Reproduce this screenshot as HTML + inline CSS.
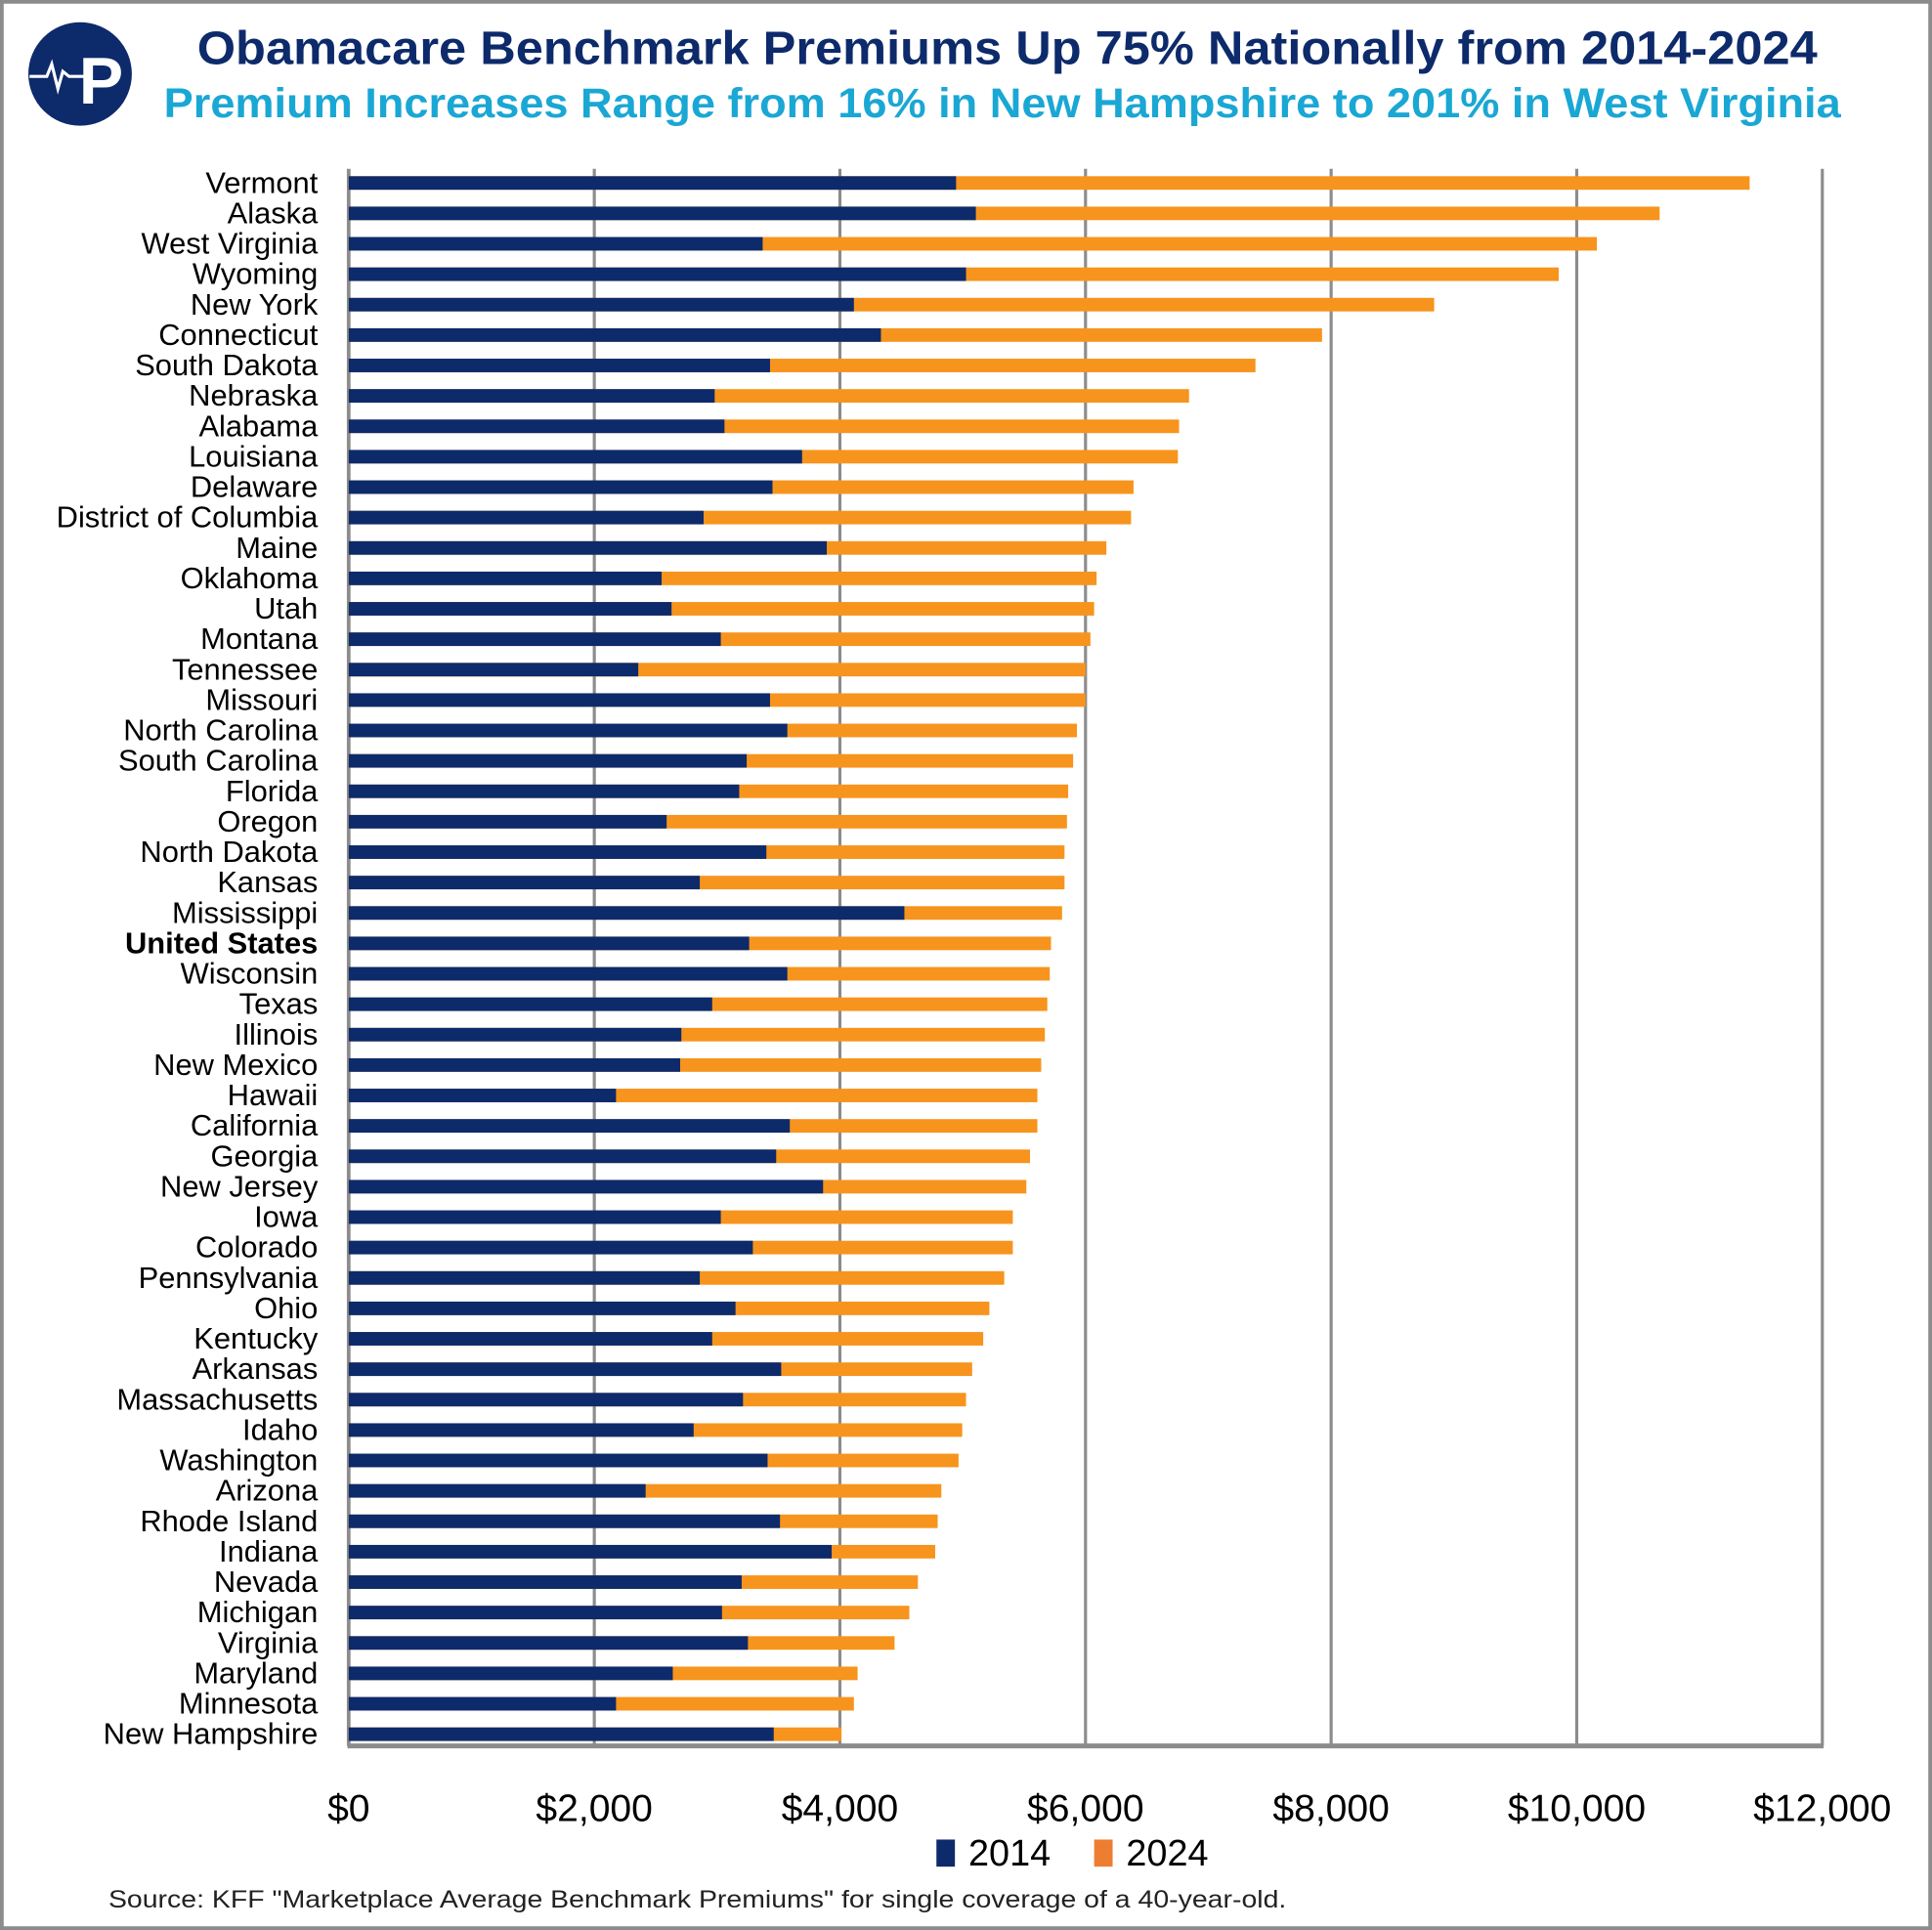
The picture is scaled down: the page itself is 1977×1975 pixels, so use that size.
<!DOCTYPE html>
<html><head><meta charset="utf-8"><style>
html,body{margin:0;padding:0;background:#fff}
svg{display:block}
text{font-family:"Liberation Sans",sans-serif}
</style></head><body>
<svg id="chart" width="1977" height="1975" viewBox="0 0 1568 1566.4" xmlns="http://www.w3.org/2000/svg">
<rect x="1.5" y="1.5" width="1565" height="1563.4" fill="#fff" stroke="#8c8c8c" stroke-width="3"/>
<g>
<circle cx="65" cy="60" r="42" fill="#0d2a6b"/>
<path d="M24 62 L38 62 L42 52 L47 72 L51 58 L56 62 L70 62" stroke="#fff" stroke-width="2.5" fill="none"/>
<text x="64" y="84" font-size="54" font-weight="bold" fill="#fff">P</text>
</g>
<text x="160" y="52" textLength="1315" lengthAdjust="spacingAndGlyphs" font-size="38" font-weight="bold" fill="#0d2a6b">Obamacare Benchmark Premiums Up 75% Nationally from 2014-2024</text>
<text x="133" y="95" textLength="1361" lengthAdjust="spacingAndGlyphs" font-size="34" font-weight="bold" fill="#1aa7d4">Premium Increases Range from 16% in New Hampshire to 201% in West Virginia</text>
<g id="grid"></g>
<g id="bars"></g>
<g id="labels"></g>
<g id="ticks"></g>
<g>
<rect x="760" y="1493" width="15" height="22" fill="#0d2a6b"/>
<text x="786" y="1514" font-size="30" fill="#000">2014</text>
<rect x="888" y="1493" width="15" height="22" fill="#ed7d31"/>
<text x="914" y="1514" font-size="30" fill="#000">2024</text>
</g>
<text x="88" y="1548" textLength="956" lengthAdjust="spacingAndGlyphs" font-size="20" fill="#222">Source: KFF "Marketplace Average Benchmark Premiums" for single coverage of a 40-year-old.</text>
</svg>
<script>
const states=["Vermont","Alaska","West Virginia","Wyoming","New York","Connecticut","South Dakota","Nebraska","Alabama","Louisiana","Delaware","District of Columbia","Maine","Oklahoma","Utah","Montana","Tennessee","Missouri","North Carolina","South Carolina","Florida","Oregon","North Dakota","Kansas","Mississippi","United States","Wisconsin","Texas","Illinois","New Mexico","Hawaii","California","Georgia","New Jersey","Iowa","Colorado","Pennsylvania","Ohio","Kentucky","Arkansas","Massachusetts","Idaho","Washington","Arizona","Rhode Island","Indiana","Nevada","Michigan","Virginia","Maryland","Minnesota","New Hampshire"];
const prem2014=[4946,5107,3371,5027,4114,4334,3431,2980,3060,3692,3451,2890,3893,2548,2629,3030,2358,3431,3572,3241,3180,2589,3401,2859,4525,3261,3572,2960,2709,2699,2177,3592,3481,3863,3030,3291,2859,3150,2960,3522,3211,2809,3411,2418,3512,3933,3200,3040,3251,2639,2177,3461];
const prem2024=[11408,10675,10164,9853,8839,7926,7384,6843,6762,6752,6391,6371,6170,6090,6070,6040,6000,6000,5930,5899,5859,5849,5829,5829,5809,5719,5709,5689,5669,5639,5608,5608,5548,5518,5408,5408,5338,5217,5167,5077,5027,4996,4966,4826,4796,4776,4635,4565,4445,4144,4114,4013];
const tickVals=[0,2000,4000,6000,8000,10000,12000];
const tickLabels=["$0","$2,000","$4,000","$6,000","$8,000","$10,000","$12,000"];
const NS="http://www.w3.org/2000/svg";
const X0=283,X1=1479,XMAX=12000,Y0=148.5,PITCH=(1407.5-148.5)/51,BH=11;
const xs=v=>X0+v/XMAX*(X1-X0);
const ys=i=>Y0+i*PITCH;
function mk(tag,attrs,parent){const e=document.createElementNS(NS,tag);for(const k in attrs)e.setAttribute(k,attrs[k]);parent.appendChild(e);return e;}
const grid=document.getElementById('grid'),bars=document.getElementById('bars'),labels=document.getElementById('labels'),ticks=document.getElementById('ticks');
tickVals.forEach((v,i)=>{
  const gl=mk('line',{x1:xs(v),x2:xs(v),y1:137,y2:1417,stroke:'#8c8c8c','stroke-width':v===0?3:2.5},grid);
  
  
  const t=mk('text',{x:xs(v),y:1478,'text-anchor':'middle','font-size':31,fill:'#000'},ticks);
  t.textContent=tickLabels[i];
  
  
});
const ax=mk('line',{x1:X0-1,x2:X1+1,y1:1417,y2:1417,stroke:'#8c8c8c','stroke-width':4},grid);


states.forEach((s,i)=>{
  const y=ys(i);
  const b2=mk('rect',{x:X0,y:y-BH/2,width:xs(prem2024[i])-X0,height:BH,fill:'#f7941d'},bars);
  
  
  const b1=mk('rect',{x:X0,y:y-BH/2,width:xs(prem2014[i])-X0,height:BH,fill:'#0d2a6b'},bars);
  
  
  const t=mk('text',{x:258,y:y+8,'text-anchor':'end','font-size':24.5,fill:'#000'},labels);
  if(s==='United States')t.setAttribute('font-weight','bold');
  t.textContent=s;
  
  
});
</script>
</body></html>
